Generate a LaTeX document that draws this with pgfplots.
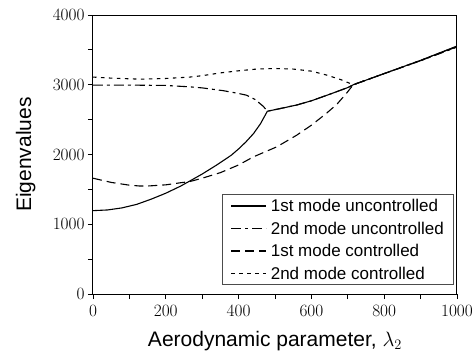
\documentclass[border=0pt]{standalone}
\usepackage{pgfplots}
\pgfplotsset{compat=1.18}
\usepackage{fontspec}
\setmainfont{Liberation Sans}
\begin{document}
\begin{tikzpicture}
\path[use as bounding box] (-93pt,-60pt) rectangle (382pt,294pt);
\begin{axis}[
  scale only axis,
  width=364pt, height=279pt,
  xmin=0, xmax=1000, ymin=0, ymax=4000,
  xtick={0,200,...,1000}, minor x tick num=1,
  ytick={0,1000,...,4000}, minor y tick num=1,
  tick align=outside,
  xtick pos=bottom, ytick pos=left,
  major tick length=5pt, minor tick length=5pt,
  every tick/.style={black, line width=0.8pt},
  axis line style={line width=1pt},
  /pgf/number format/1000 sep={},
  ticklabel style={font=\fontsize{18}{21}\selectfont},
  xticklabel style={yshift=-3pt},
  xlabel={Aerodynamic parameter, $\lambda_2$},
  ylabel={Eigenvalues},
  label style={font=\fontsize{21}{25}\selectfont},
  xlabel style={at={(axis description cs:0.5,-0.189)}, anchor=base},
  ylabel style={at={(axis description cs:-0.185,0.5)}, anchor=center},
  legend cell align=left,
  legend style={at={(axis description cs:0.992,0.032)}, anchor=south east,
    draw=black!70, line width=0.6pt,
    font=\fontsize{17}{20}\selectfont,
    inner xsep=8pt, inner ysep=2pt, row sep=4pt, column sep=2pt,
    cells={inner sep=1pt, text height=13pt, text depth=4pt}},
  legend image code/.code={\draw[#1] (0pt,0pt) -- (35pt,0pt);},
  every axis plot/.append style={line width=1.1pt, black},
]
% 1st mode uncontrolled
\addplot[solid] coordinates {
(0,1195) (40,1205) (80,1235) (120,1285) (160,1360) (200,1445) (240,1545) (266,1620)
(300,1720) (340,1850) (380,1990) (400,2080) (420,2180) (441,2300) (460,2440) (479,2620)
(520,2665) (560,2710) (600,2770) (651,2865) (700,2960) (715,3000) (800,3160) (900,3350) (1000,3555)};
\addlegendentry{1st mode uncontrolled}
% 2nd mode uncontrolled
\addplot[dash pattern=on 10pt off 4pt on 3pt off 4pt] coordinates {
(0,2995) (100,2995) (200,2990) (266,2970) (300,2955) (358,2915) (400,2875) (422,2850)
(445,2790) (468,2690) (479,2620) (520,2665) (560,2710) (600,2770) (651,2865) (700,2960)
(715,3000) (800,3160) (900,3345) (1000,3540)};
\addlegendentry{2nd mode uncontrolled}
% 1st mode controlled
\addplot[dash pattern=on 9pt off 5pt] coordinates {
(0,1660) (50,1600) (100,1560) (129,1548) (150,1548) (200,1565) (239,1594) (266,1612)
(300,1660) (350,1740) (400,1850) (441,1967) (505,2110) (560,2278) (600,2420) (641,2589)
(670,2720) (696,2875) (715,3000) (800,3160) (900,3345) (1000,3545)};
\addlegendentry{1st mode controlled}
% 2nd mode controlled
\addplot[dash pattern=on 3.5pt off 4.5pt] coordinates {
(0,3110) (50,3095) (129,3080) (200,3090) (266,3110) (300,3130) (350,3170) (400,3200)
(450,3225) (500,3233) (550,3225) (600,3195) (641,3140) (680,3075) (715,3000)
(800,3160) (900,3350) (1000,3550)};
\addlegendentry{2nd mode controlled}
\end{axis}
\end{tikzpicture}
\end{document}
